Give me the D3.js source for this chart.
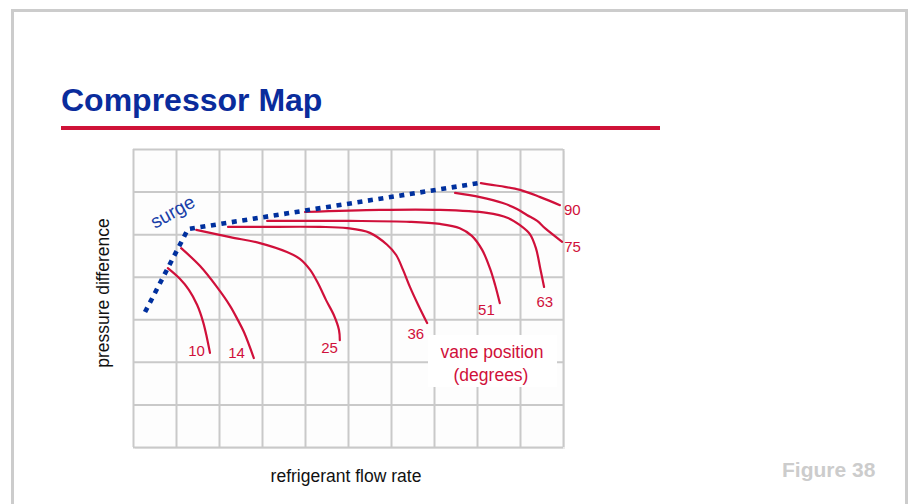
<!DOCTYPE html>
<html>
<head>
<meta charset="utf-8">
<script src="https://cdn.jsdelivr.net/npm/d3@7"></script>
<style>
  html, body { margin: 0; padding: 0; background: #fff; }
  svg { display: block; font-family: 'Liberation Sans', Arial, sans-serif; }
  .grid line { stroke: #c9c9c9; stroke-width: 2; }
  .grid .domain { display: none; }
  .vane { fill: none; stroke: #d0103a; stroke-width: 2.2; stroke-linecap: round; }
  .vane-label { fill: #d0103a; font-size: 15px; }
</style>
</head>
<body>
<div id="chart"></div>
<script>
// Grid cells across (flow) and up (pressure); curves are in grid units
const xCells = 10;
const yCells = 7;

// Vane positions (degrees) for each constant-vane curve
const vaneAngles = [10, 14, 25, 36, 51, 63, 75, 90];

// Curves, one array per vane position: [flow, pressure]
const vane10 = [[0.81, 4.2], [1.09, 3.95], [1.3, 3.69], [1.49, 3.34], [1.63, 2.94], [1.72, 2.56], [1.79, 2.21]];
const vane14 = [[1.12, 4.67], [1.56, 4.25], [1.95, 3.76], [2.26, 3.31], [2.44, 2.98], [2.58, 2.7], [2.81, 2.09]];
const vane25 = [[1.47, 5.1], [2.26, 4.93], [2.95, 4.79], [3.58, 4.58], [3.88, 4.42], [4.12, 4.16], [4.3, 3.85], [4.49, 3.45], [4.67, 3.1], [4.79, 2.75], [4.81, 2.51]];
const vane36 = [[2.21, 5.17], [2.95, 5.17], [4.35, 5.17], [4.98, 5.14], [5.51, 5.03], [5.91, 4.75], [6.12, 4.51], [6.28, 4.16], [6.44, 3.76], [6.63, 3.34], [6.84, 2.91]];
const vane51 = [[3.12, 5.31], [5.05, 5.31], [6.44, 5.29], [7.14, 5.24], [7.6, 5.14], [7.88, 4.96], [8.12, 4.63], [8.3, 4.2], [8.42, 3.81], [8.53, 3.38]];
const vane63 = [[4.0, 5.52], [5.74, 5.57], [7.14, 5.57], [8.23, 5.5], [8.72, 5.38], [9.0, 5.21], [9.23, 5.0], [9.37, 4.67], [9.47, 4.2], [9.56, 3.76]];
const vane75 = [[7.49, 5.97], [8.07, 5.87], [8.6, 5.73], [8.93, 5.59], [9.16, 5.45], [9.4, 5.31], [9.58, 5.14], [9.98, 4.82]];
const vane90 = [[8.09, 6.2], [8.53, 6.13], [9.0, 6.04], [9.47, 5.87], [9.93, 5.68]];

// Surge line (dotted blue)
const surge = [[0.28, 3.17], [1.28, 5.12], [8.05, 6.2]];

const vaneCurves = [vane10, vane14, vane25, vane36, vane51, vane63, vane75, vane90];

// Where each number sits relative to the end of its curve
const labelOffsets = {
  10: { dx: -5, dy: 3, anchor: 'end' },
  14: { dx: -9, dy: 0, anchor: 'end' },
  25: { dx: -2, dy: 13, anchor: 'end' },
  36: { dx: -3, dy: 16, anchor: 'end' },
  51: { dx: -5, dy: 12, anchor: 'end' },
  63: { dx: 9, dy: 20, anchor: 'end' },
  75: { dx: 2, dy: 10, anchor: 'start' },
  90: { dx: 4, dy: 10, anchor: 'start' }
};

const width = 909;
const height = 504;
const red = '#d0103a';
const blue = '#00309e';

const svg = d3.select('#chart').append('svg')
  .attr('width', width)
  .attr('height', height);

// Slide frame (no bottom edge visible)
svg.append('rect')
  .attr('x', 12.5)
  .attr('y', 10.5)
  .attr('width', 894)
  .attr('height', 600)
  .attr('fill', 'none')
  .attr('stroke', '#cccccc')
  .attr('stroke-width', 3);

// Title and rule
svg.append('text')
  .attr('x', 61)
  .attr('y', 111)
  .attr('fill', '#0a2c9c')
  .attr('font-size', 32)
  .attr('font-weight', 'bold')
  .text('Compressor Map');

svg.append('rect')
  .attr('x', 61)
  .attr('y', 126)
  .attr('width', 599)
  .attr('height', 4)
  .attr('fill', '#cf1238');

// Scales for the plot area
const x = d3.scaleLinear().domain([0, xCells]).range([133, 563]);
const y = d3.scaleLinear().domain([0, yCells]).range([447, 149]);

// Soft shadow under the grid
svg.append('rect')
  .attr('x', x(0) + 2)
  .attr('y', y(yCells) + 2)
  .attr('width', x(xCells) - x(0))
  .attr('height', y(0) - y(yCells))
  .attr('fill', '#ececec');

svg.append('rect')
  .attr('x', x(0))
  .attr('y', y(yCells))
  .attr('width', x(xCells) - x(0))
  .attr('height', y(0) - y(yCells))
  .attr('fill', '#fdfdfd');

// Gridlines drawn with axes
const gridX = d3.axisBottom(x)
  .ticks(xCells)
  .tickFormat('')
  .tickSize(-(y(0) - y(yCells)));

svg.append('g')
  .attr('class', 'grid')
  .attr('transform', `translate(0, ${y(0)})`)
  .call(gridX);

const gridY = d3.axisLeft(y)
  .ticks(yCells)
  .tickFormat('')
  .tickSize(-(x(xCells) - x(0)));

svg.append('g')
  .attr('class', 'grid')
  .attr('transform', `translate(${x(0)}, 0)`)
  .call(gridY);

// White box behind the legend note
svg.append('rect')
  .attr('x', 428)
  .attr('y', 335)
  .attr('width', 129)
  .attr('height', 52)
  .attr('fill', '#fff');

const line = d3.line()
  .curve(d3.curveCatmullRom.alpha(0.5))
  .x(d => x(d[0]))
  .y(d => y(d[1]));

// Vane curves
svg.append('g')
  .selectAll('path')
  .data(vaneCurves)
  .enter()
    .append('path')
      .attr('class', 'vane')
      .attr('d', d => line(d));

// Vane labels at the curve ends
svg.append('g')
  .selectAll('text')
  .data(vaneAngles)
  .enter()
    .append('text')
      .attr('class', 'vane-label')
      .attr('x', (d, i) => {
        const end = vaneCurves[i][vaneCurves[i].length - 1];
        return x(end[0]) + labelOffsets[d].dx;
      })
      .attr('y', (d, i) => {
        const end = vaneCurves[i][vaneCurves[i].length - 1];
        return y(end[1]) + labelOffsets[d].dy;
      })
      .attr('text-anchor', d => labelOffsets[d].anchor)
      .text(d => d);

// Surge line
svg.append('path')
  .attr('d', d3.line().x(d => x(d[0])).y(d => y(d[1]))(surge))
  .attr('fill', 'none')
  .attr('stroke', blue)
  .attr('stroke-width', 4.6)
  .attr('stroke-dasharray', '5 5.6');

svg.append('text')
  .attr('transform', 'translate(155, 229) rotate(-29)')
  .attr('fill', '#1a3fa8')
  .attr('font-size', 19)
  .text('surge');

// Legend note
svg.append('text')
  .attr('x', 492)
  .attr('y', 358)
  .attr('text-anchor', 'middle')
  .attr('fill', red)
  .attr('font-size', 17.5)
  .text('vane position');

svg.append('text')
  .attr('x', 491)
  .attr('y', 381)
  .attr('text-anchor', 'middle')
  .attr('fill', red)
  .attr('font-size', 17.5)
  .text('(degrees)');

// Axis legends
svg.append('text')
  .attr('transform', 'translate(109, 293) rotate(-90)')
  .attr('text-anchor', 'middle')
  .attr('fill', '#111')
  .attr('font-size', 17.5)
  .text('pressure difference');

svg.append('text')
  .attr('x', 346)
  .attr('y', 482)
  .attr('text-anchor', 'middle')
  .attr('fill', '#111')
  .attr('font-size', 17.5)
  .text('refrigerant flow rate');

// Figure number
svg.append('text')
  .attr('x', 782)
  .attr('y', 477)
  .attr('fill', '#cccccc')
  .attr('font-size', 21)
  .attr('font-weight', 'bold')
  .text('Figure 38');
</script>
</body>
</html>
